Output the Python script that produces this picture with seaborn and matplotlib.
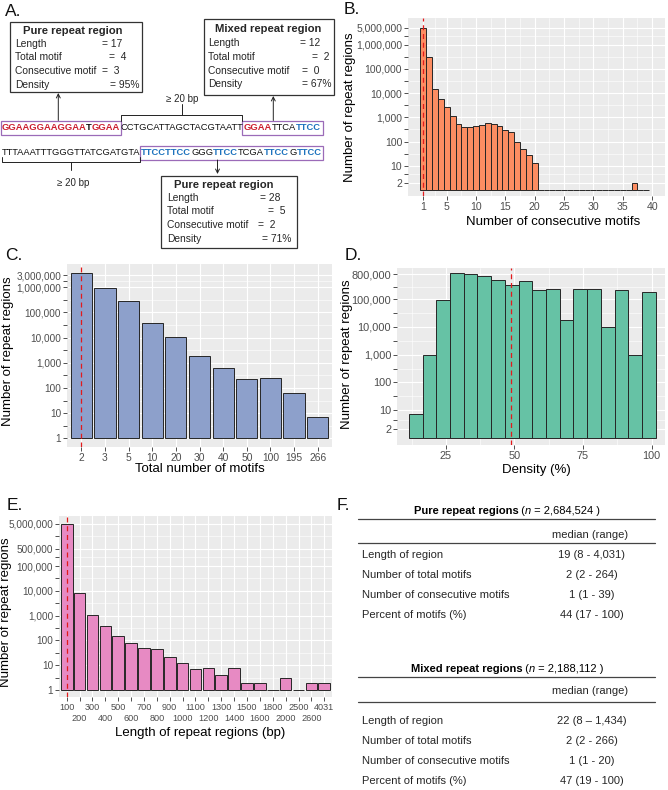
import numpy as np
import pandas as pd
import matplotlib
matplotlib.use("Agg")
import matplotlib.pyplot as plt
import seaborn as sns
from matplotlib.ticker import FixedLocator
from matplotlib.patches import Rectangle
from matplotlib.font_manager import FontProperties, findfont
from matplotlib.ft2font import FT2Font
try:
    from matplotlib.ft2font import Kerning
    KDEF = Kerning.DEFAULT
except Exception:
    from matplotlib.ft2font import KERNING_DEFAULT as KDEF

# ------------------------------------------------------------------ data
consec_motifs = list(range(1, 40))
consec_counts = [4700000, 300000, 14300, 5500, 2600, 1130, 530, 410, 410, 450,
                 480, 565, 530, 440, 300, 250, 100, 49, 27, 13] + [0] * 16 + [2, 0, 0]
consec_yticks = [2, 10, 100, 1000, 10000, 100000, 1000000, 5000000]
consec_xticks = [1, 5, 10, 15, 20, 25, 30, 35, 40]

total_motif_cats = ["2", "3", "5", "10", "20", "30", "40", "50", "100", "195", "266"]
total_motif_counts = [3600000, 950000, 280000, 39000, 10200, 1800, 600, 220, 253, 61, 7]
total_yticks = [1, 10, 100, 1000, 10000, 100000, 1000000, 3000000]

density_centers = [14, 19, 24, 29, 34, 39, 44, 49, 54, 59, 64, 69, 74, 79, 84, 89, 94, 99]
density_counts = [7, 940, 98000, 910000, 790000, 720000, 480000, 315000, 440000,
                  215000, 245000, 18000, 228000, 232000, 9600, 215000, 940, 182000]
density_yticks = [2, 10, 100, 1000, 10000, 100000, 800000]
density_xticks = [25, 50, 75, 100]
density_median = 48.7

length_cats = ["100", "200", "300", "400", "500", "600", "700", "800", "900", "1000",
               "1100", "1200", "1300", "1400", "1500", "1600", "1800", "2000", "2500",
               "2600", "4031"]
length_counts = [4900000, 7900, 1050, 390, 150, 76, 52, 44, 21, 12, 7, 8, 4, 8, 2, 2,
                 0, 3, 0, 2, 2]
length_yticks = [1, 10, 100, 1000, 10000, 100000, 500000, 5000000]

table_rows = ["Length of region", "Number of total motifs",
              "Number of consecutive motifs", "Percent of motifs (%)"]
pure_values = ["19 (8 - 4,031)", "2 (2 - 264)", "1 (1 - 39)", "44 (17 - 100)"]
mixed_values = ["22 (8 \u2013 1,434)", "2 (2 - 266)", "1 (1 - 20)", "47 (19 - 100)"]
pure_n = "2,684,524"
mixed_n = "2,188,112"

# ------------------------------------------------------------------ style
sns.set_theme(style="darkgrid", rc={"axes.facecolor": "#EBEBEB", "grid.color": "white"})
plt.rcParams["font.family"] = ["Liberation Sans", "DejaVu Sans"]

ORANGE, BLUEB, GREEN, PINK = "#FC8D62", "#8DA0CB", "#66C2A5", "#E78AC3"
EDGE = "#262626"
REDLINE = "#E31A1C"
W, H = 668, 790
fig = plt.figure(figsize=(W / 100, H / 100), dpi=100)
fig.patch.set_facecolor("white")

ov = fig.add_axes([0, 0, 1, 1])
ov.set_xlim(0, W)
ov.set_ylim(H, 0)
ov.axis("off")
ov.patch.set_visible(False)


def add_ax(x0, y0, x1, y1):
    return fig.add_axes([x0 / W, 1 - y1 / H, (x1 - x0) / W, (y1 - y0) / H])


def style(ax, yvals, ylim, xlim, fs_y, fs_x, xlabel, ylabel, xl, yl, xminor=None):
    for s in ax.spines.values():
        s.set_visible(False)
    ax.set_facecolor("#EBEBEB")
    lv = np.log10(yvals)
    ax.set_yticks(lv, labels=[f"{v:,}" for v in yvals])
    ax.yaxis.set_minor_locator(FixedLocator((lv[:-1] + lv[1:]) / 2))
    if xminor is not None:
        ax.xaxis.set_minor_locator(FixedLocator(xminor))
    ax.set_ylim(*ylim)
    ax.set_xlim(*xlim)
    ax.set_axisbelow(True)
    ax.grid(True, which="major", color="white", linewidth=0.85)
    ax.grid(True, which="minor", color="white", linewidth=0.4)
    ax.tick_params(axis="both", which="major", length=2.7, width=0.6, color="#333333",
                   pad=1.5, labelcolor="#4D4D4D", bottom=True, left=True)
    ax.tick_params(axis="y", which="minor", length=2.7, width=0.6, color="#333333", left=True)
    ax.tick_params(axis="x", which="minor", length=0, bottom=False)
    ax.tick_params(axis="y", labelsize=fs_y)
    ax.tick_params(axis="x", labelsize=fs_x)
    ax.set_xlabel(xlabel, fontsize=9.5, color="black")
    ax.set_ylabel(ylabel, fontsize=9.5, color="black")
    ax.xaxis.set_label_coords(*xl)
    ax.yaxis.set_label_coords(*yl)
    ax.xaxis.label.set_va("center")
    ax.yaxis.label.set_va("center")
    ax.yaxis.label.set_ha("center")


def logh(c):
    return np.log10(np.maximum(np.asarray(c, dtype=float), 1))


bar_kw = dict(saturation=1, edgecolor=EDGE, linewidth=0.7, errorbar=None)

# ------------------------------------------------------------------ B
axB = add_ax(408, 18, 665, 196)
sns.barplot(x=consec_motifs, y=logh(consec_counts), native_scale=True, width=1,
            color=ORANGE, ax=axB, **bar_kw)
axB.set_xticks(consec_xticks, labels=[str(v) for v in consec_xticks])
style(axB, consec_yticks, (-0.25, 7.1), (-1.6, 42.2), 7.5, 7.6,
      "Number of consecutive motifs", "Number of repeat regions",
      (0.564, -0.146), (-0.226, 0.5), xminor=[3, 7.5, 12.5, 17.5, 22.5, 27.5, 32.5, 37.5])
axB.axvline(1, color=REDLINE, lw=0.9, ls=(0, (4, 3)), zorder=5)

# ------------------------------------------------------------------ C
axC = add_ax(67, 264, 332, 447)
sns.barplot(x=total_motif_cats, y=logh(total_motif_counts), width=0.9, color=BLUEB,
            ax=axC, **bar_kw)
axC.set_xticks(range(len(total_motif_cats)), labels=total_motif_cats)
style(axC, total_yticks, (-0.345, 6.92), (-0.6, len(total_motif_cats) - 0.4), 7.2, 7.4,
      "Total number of motifs", "Number of repeat regions",
      (0.502, -0.12), (-0.223, 0.525))
axC.axvline(0, color=REDLINE, lw=0.9, ls=(0, (4, 3)), zorder=5)

# ------------------------------------------------------------------ D
axD = add_ax(397, 268, 665, 445)
sns.barplot(x=density_centers, y=logh(density_counts), native_scale=True, width=1,
            color=GREEN, ax=axD, **bar_kw)
axD.set_xticks(density_xticks, labels=[str(v) for v in density_xticks])
style(axD, density_yticks, (-0.26, 6.13), (7.2, 104.9), 7.9, 7.8,
      "Density (%)", "Number of repeat regions",
      (0.521, -0.141), (-0.187, 0.514), xminor=[12.5, 37.5, 62.5, 87.5])
axD.axvline(density_median, color=REDLINE, lw=0.9, ls=(0, (4, 3)), zorder=5)

# ------------------------------------------------------------------ E
axE = add_ax(59, 516, 332, 697)
sns.barplot(x=length_cats, y=logh(length_counts), width=0.9, color=PINK, ax=axE, **bar_kw)
axE.set_xticks(range(0, len(length_cats), 2), labels=length_cats[0::2])
axE.set_xticks(range(1, len(length_cats), 2), labels=length_cats[1::2], minor=True)
style(axE, length_yticks, (-0.28, 7.02), (-0.6, len(length_cats) - 0.4), 7.2, 6.6,
      "Length of repeat regions (bp)", "Number of repeat regions",
      (0.516, -0.199), (-0.194, 0.467))
axE.tick_params(axis="x", which="minor", length=2.7, width=0.6, color="#333333",
                bottom=True, pad=9.4, labelsize=6.6, labelcolor="#4D4D4D")
axE.grid(True, which="minor", axis="x", color="white", linewidth=0.85)
axE.axvline(0, color=REDLINE, lw=0.9, ls=(0, (4, 3)), zorder=5)

# ------------------------------------------------------------------ text helpers
_fonts = {}


def adv_width(s, fs, weight="normal", fstyle="normal"):
    key = (weight, fstyle)
    if key not in _fonts:
        fp = FontProperties(family="Liberation Sans", weight=weight, style=fstyle)
        _fonts[key] = FT2Font(findfont(fp))
    f = _fonts[key]
    f.set_size(fs, 100)
    total, prev = 0.0, None
    for ch in s:
        gi = f.get_char_index(ord(ch))
        if prev is not None:
            try:
                total += f.get_kerning(prev, gi, KDEF) / 64.0
            except Exception:
                pass
        g = f.load_char(ord(ch))
        total += g.linearHoriAdvance / 65536.0
        prev = gi
    return total


def seg_line(x, y, segs, fs, ha="left"):
    widths = [adv_width(s, fs, w, st) for s, c, w, st in segs]
    cx = x - sum(widths) / 2 if ha == "center" else x
    starts = []
    for (s, c, w, st), wd in zip(segs, widths):
        ov.text(cx, y, s, fontsize=fs, color=c, fontweight=w, fontstyle=st,
                ha="left", va="baseline")
        starts.append((cx, cx + wd))
        cx += wd
    return starts


# ------------------------------------------------------------------ panel labels
for lab, x, y in [("A.", 5, 11), ("B.", 344, 9.5), ("C.", 5, 256), ("D.", 345, 256),
                  ("E.", 7, 505.5), ("F.", 337, 505)]:
    ov.text(x, y, lab, fontsize=12.5, ha="left", va="center", color="#111111")

# ------------------------------------------------------------------ A diagram
RED, BLUE, BLK = "#CC1F2F", "#1E73BE", "#111111"
PURPLE = "#9B6BB8"
line1 = [("GGAAGGAAGGAA", RED, "bold", "normal"), ("T", BLK, "bold", "normal"),
         ("GGAA", RED, "bold", "normal"), ("CCTGCATTAGCTACGTAATT", BLK, "normal", "normal"),
         ("GGAA", RED, "bold", "normal"), ("TTCA", BLK, "normal", "normal"),
         ("TTCC", BLUE, "bold", "normal")]
line2 = [("TTTAAATTTGGGTTATCGATGTA", BLK, "normal", "normal"),
         ("TTCCTTCC", BLUE, "bold", "normal"), ("GGG", BLK, "normal", "normal"),
         ("TTCC", BLUE, "bold", "normal"), ("TCGA", BLK, "normal", "normal"),
         ("TTCC", BLUE, "bold", "normal"), ("G", BLK, "normal", "normal"),
         ("TTCC", BLUE, "bold", "normal")]
w10 = sum(adv_width(s, 10, w, st) for s, c, w, st in line1)
seq_fs = 10 * 319.0 / w10
p1 = seg_line(2, 130.3, line1, seq_fs)
p2 = seg_line(2, 155.3, line2, seq_fs)

b1l, b1r = p1[0][0] - 1.5, p1[2][1] + 1.2
b2l, b2r = p1[4][0] - 1.2, p1[6][1] + 1.5
b3l, b3r = p2[1][0] - 1.2, p2[7][1] + 1.5
for xl_, xr_, yt, yb in [(b1l, b1r, 120.5, 135), (b2l, b2r, 120.5, 135), (b3l, b3r, 145.5, 160)]:
    ov.add_patch(Rectangle((xl_, yt), xr_ - xl_, yb - yt, fill=False, ec=PURPLE, lw=0.9))

# top bracket
ov.plot([b1r, b1r, b2l, b2l], [120.5, 114.5, 114.5, 120.5], color="#222222", lw=0.7)
mid = (b1r + b2l) / 2
ov.plot([mid, mid], [114.5, 104], color="#222222", lw=0.7)
ov.text(mid, 98.5, "\u2265 20 bp", fontsize=7, ha="center", va="center")
# bottom bracket
ov.plot([1.5, 1.5, b3l, b3l], [156.5, 161.5, 161.5, 156.5], color="#222222", lw=0.7)
mid2 = (1.5 + b3l) / 2
ov.plot([mid2, mid2], [161.5, 170], color="#222222", lw=0.7)
ov.text(mid2 + 2, 182.5, "\u2265 20 bp", fontsize=7, ha="center", va="center")

# arrows
arw = dict(arrowstyle="->", lw=0.7, color="#222222", shrinkA=0, shrinkB=0, mutation_scale=7)
ov.annotate("", xy=(58.3, 93), xytext=(58.3, 120.5), arrowprops=arw)
ov.annotate("", xy=(273.3, 96), xytext=(273.3, 120.5), arrowprops=arw)
ov.annotate("", xy=(217.5, 174), xytext=(217.5, 160), arrowprops=arw)

box_labels = ["Length", "Total motif", "Consecutive motif", "Density"]
box_specs = [
    dict(rect=(10, 22, 142, 92), title="Pure repeat region", tx=(73, 31),
         lx=15, ys=[44, 57.5, 71, 85], eqx=[101.7, 108.7, 101.5, 110],
         vals=["= 17", "=  4", "=  3", "= 95%"]),
    dict(rect=(204, 19, 334, 95), title="Mixed repeat region", tx=(268, 29.3),
         lx=208, ys=[42.7, 56.7, 70.7, 84.3], eqx=[300, 311.5, 301.5, 301.5],
         vals=["= 12", "=  2", "=  0", "= 67%"]),
    dict(rect=(161, 176, 297, 247.5), title="Pure repeat region", tx=(224, 184.5),
         lx=167, ys=[197.7, 211.3, 225.3, 238.7], eqx=[260, 268, 258.3, 261.7],
         vals=["= 28", "=  5", "=  2", "= 71%"]),
]
for bs in box_specs:
    x0, y0, x1, y1 = bs["rect"]
    ov.add_patch(Rectangle((x0, y0), x1 - x0, y1 - y0, fill=False, ec="#333333", lw=0.9))
    ov.text(bs["tx"][0], bs["tx"][1], bs["title"], fontsize=8.1, fontweight="bold",
            ha="center", va="center")
    for lab, y, ex, v in zip(box_labels, bs["ys"], bs["eqx"], bs["vals"]):
        ov.text(bs["lx"], y, lab, fontsize=7.4, ha="left", va="center")
        ov.text(ex, y, v, fontsize=7.4, ha="left", va="center")

# ------------------------------------------------------------------ F table
FS = 8
LC = "#444444"


def table(title_base, n_text, values, y_title, y_line1, y_med, y_line2, row_ys):
    seg_line(507, y_title, [(title_base, "black", "bold", "normal"),
                            (" (", "black", "normal", "normal"),
                            ("n", "black", "normal", "italic"),
                            (" = " + n_text + " )", "black", "normal", "normal")], FS,
             ha="center")
    ov.plot([358, 655], [y_line1, y_line1], color=LC, lw=0.9)
    ov.text(590, y_med, "median (range)", fontsize=FS, ha="center", va="baseline")
    ov.plot([358, 655], [y_line2, y_line2], color=LC, lw=0.9)
    for lab, val, y in zip(table_rows, values, row_ys):
        ov.text(362, y, lab, fontsize=FS, ha="left", va="baseline")
        ov.text(592, y, val, fontsize=FS, ha="center", va="baseline")


table("Pure repeat regions", pure_n, pure_values, 514.5, 518.5, 537.5, 542.5,
      [558.5, 578.5, 598.3, 617.5])
table("Mixed repeat regions", mixed_n, mixed_values, 671.5, 676.5, 694.5, 701.7,
      [723.5, 743.5, 763.5, 784])

fig.savefig("out.png", dpi=100)
